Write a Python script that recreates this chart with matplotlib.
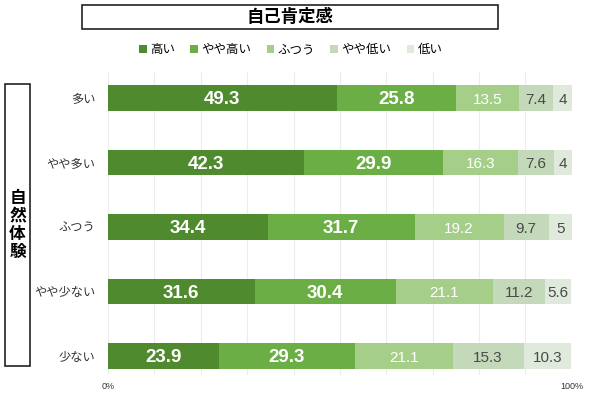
import matplotlib
matplotlib.use('Agg')
import matplotlib.pyplot as plt
from matplotlib.patches import Rectangle
import numpy as np

plt.rcParams['font.family'] = ['Noto Sans CJK JP', 'DejaVu Sans']

# データ ---------------------------------------------------------------
title = '自己肯定感'
side_label = '自然体験'
categories = ['多い', 'やや多い', 'ふつう', 'やや少ない', '少ない']
series_names = ['高い', 'やや高い', 'ふつう', 'やや低い', '低い']
high = [49.3, 42.3, 34.4, 31.6, 23.9]
mid_high = [25.8, 29.9, 31.7, 30.4, 29.3]
normal = [13.5, 16.3, 19.2, 21.1, 21.1]
mid_low = [7.4, 7.6, 9.7, 11.2, 15.3]
low = [4, 4, 5, 5.6, 10.3]
x_ticks = list(range(0, 101, 10))
x_ticklabels = ['0%', '', '', '', '', '', '', '', '', '', '100%']

series = [high, mid_high, normal, mid_low, low]
colors = ['#4f8a2e', '#6aae45', '#a5cf88', '#c4d9ba', '#dfe9dc']
txt_colors = ['white', 'white', 'white', '#4a4a4a', '#4a4a4a']
txt_sizes = [13.5, 13.5, 11, 11, 11]
txt_weights = ['bold', 'bold', 'normal', 'normal', 'normal']
num_font = ['Liberation Sans', 'DejaVu Sans']

fig = plt.figure(figsize=(6, 4), dpi=100)
ax = fig.add_axes([0.18, 0.0625, 0.773, 0.7575])

y = np.arange(len(categories))
left = np.zeros(len(categories))
for k, vals in enumerate(series):
    vals = np.array(vals)
    ax.barh(y, vals, left=left, height=0.39, color=colors[k],
            label=series_names[k], zorder=3)
    for i in range(len(categories)):
        v = vals[i]
        lab = ('%g' % v)
        ax.text(left[i] + v / 2, y[i] + 0.03, lab, ha='center', va='center',
                color=txt_colors[k], fontsize=txt_sizes[k],
                fontweight=txt_weights[k], family=num_font, zorder=4)
    left = left + vals

ax.set_xlim(0, 100)
ax.set_ylim(4.295, -0.403)
ax.set_yticks(y)
ax.set_yticklabels(categories, fontsize=8.8, color='#333333')
ax.set_xticks(x_ticks)
ax.set_xticklabels(x_ticklabels, fontsize=6.5, color='#333333', family=num_font)
ax.tick_params(length=0, axis='y', pad=9)
ax.tick_params(length=0, axis='x', pad=5)
ax.grid(axis='x', color='#ececec', linewidth=0.8, zorder=0)
for s in ax.spines.values():
    s.set_visible(False)

# 凡例
leg = fig.legend(loc='center', bbox_to_anchor=(0.485, 0.875), ncol=5,
                 frameon=False, fontsize=9, handlelength=0.6, handleheight=0.6,
                 handletextpad=0.3, columnspacing=1.2)

# タイトルの枠
fig.patches.append(Rectangle((82 / 600, 1 - 29 / 400), 416 / 600, 24 / 400,
                             transform=fig.transFigure, fill=False,
                             edgecolor='#222222', linewidth=1.2))
fig.text(290 / 600, 1 - 17 / 400, title, ha='center', va='center',
         fontsize=12.5, fontweight='bold')

# 左の枠
fig.patches.append(Rectangle((5 / 600, 1 - 366 / 400), 25 / 600, 282 / 400,
                             transform=fig.transFigure, fill=False,
                             edgecolor='#222222', linewidth=1.2))
fig.text(17.5 / 600, 1 - 225 / 400, '\n'.join(side_label), ha='center',
         va='center', fontsize=12, fontweight='bold', linespacing=1.0)

fig.savefig('out.png', dpi=100)
